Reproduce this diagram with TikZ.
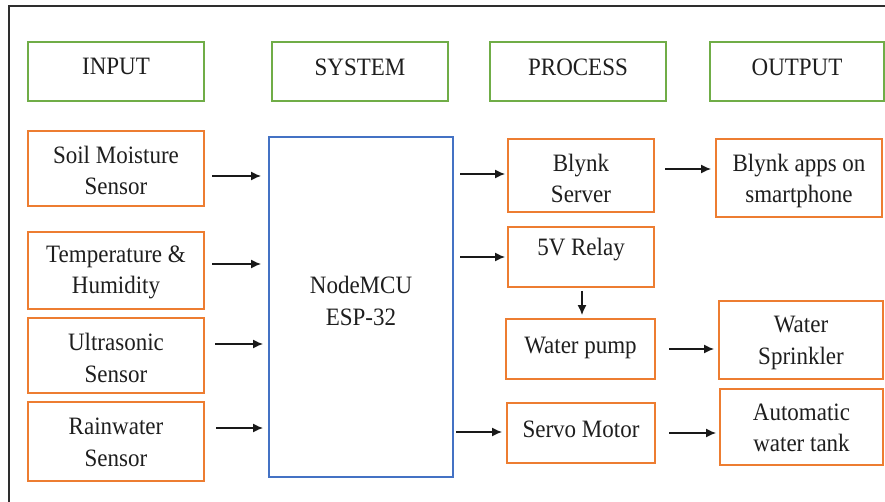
\documentclass[tikz,border=0pt]{standalone}
\usepackage{fontspec}
\setmainfont[FakeStretch=0.92]{Liberation Serif}
\usetikzlibrary{arrows.meta,calc}
\definecolor{gbox}{HTML}{70AD47}
\definecolor{obox}{HTML}{ED7D31}
\definecolor{bbox}{HTML}{4472C4}
\definecolor{txt}{HTML}{1E1E1E}
\definecolor{framec}{HTML}{2E2E2E}
\newcommand\shl[2]{\raisebox{#1}[\height][\depth]{#2}}
\begin{document}
\begin{tikzpicture}[x=1pt,y=-1pt,
  box/.style={draw, line width=2pt, inner sep=0pt, align=center, text=txt,
    font=\fontsize{25}{31.5}\selectfont},
  gb/.style={box, draw=gbox},
  ob/.style={box, draw=obox},
  bb/.style={box, draw=bbox},
  arr/.style={draw=black!90, line width=1.3pt, -{Latex[length=10pt,width=9pt]}},
  frm/.style={draw=framec, line width=2.6pt}]
\useasboundingbox (0,0) rectangle (885,502);
\coordinate (fa) at (9,505);
\coordinate (fb) at (9,6);
\coordinate (fc) at (890,6);
\draw[frm] (fa) -- (fb) -- (fc);
% header boxes
\node[gb, minimum width=176pt, minimum height=59pt] (hin) at (116,71.5) {\shl{5.5pt}{INPUT}};
\node[gb, minimum width=176pt, minimum height=59pt] (hsys) at (360,71.5) {\shl{4.5pt}{SYSTEM}};
\node[gb, minimum width=176pt, minimum height=59pt] (hproc) at (578,71.5) {\shl{4.5pt}{PROCESS}};
\node[gb, minimum width=174pt, minimum height=59pt] (hout) at (797,71.5) {\shl{4.5pt}{OUTPUT}};
% inputs
\node[ob, minimum width=176pt, minimum height=75pt] (soil) at (116,168.5) {\shl{-2pt}{Soil Moisture}\\\shl{-2pt}{Sensor}};
\node[ob, minimum width=176pt, minimum height=77pt] (temp) at (116,270.5) {\shl{-2pt}{Temperature \&}\\\shl{-2pt}{Humidity}};
\node[ob, minimum width=176pt, minimum height=75pt] (ultra) at (116,355.5) {\shl{-2.5pt}{Ultrasonic}\\\shl{-2.5pt}{Sensor}};
\node[ob, minimum width=176pt, minimum height=79pt] (rain) at (116,441.5) {\shl{-1pt}{Rainwater}\\\shl{-1pt}{Sensor}};
% system
\node[bb, minimum width=184pt, minimum height=340pt] (mcu) at (361,307) {};
\node[align=center, text=txt, font=\fontsize{25}{31.5}\selectfont] (mcut) at (361,301) {NodeMCU\\ESP-32};
% process
\node[ob, minimum width=146pt, minimum height=73pt] (blynk) at (581,175.5) {\shl{-3pt}{Blynk}\\\shl{-3pt}{Server}};
\node[ob, minimum width=146pt, minimum height=60pt] (relay) at (581,257) {\shl{7pt}{5V Relay}};
\node[ob, minimum width=149pt, minimum height=60pt] (pump) at (580.5,349) {\shl{1pt}{Water pump}};
\node[ob, minimum width=148pt, minimum height=60pt] (servo) at (581,433) {\shl{4pt}{Servo Motor}};
% outputs
\node[ob, minimum width=166pt, minimum height=78pt] (apps) at (799,178) {\shl{-3pt}{Blynk apps on}\\\shl{-3pt}{smartphone}};
\node[ob, minimum width=164pt, minimum height=78pt] (spr) at (801,340) {\shl{-3pt}{Water}\\\shl{-3pt}{Sprinkler}};
\node[ob, minimum width=163pt, minimum height=76pt] (tank) at (801.5,427) {\shl{-1pt}{Automatic}\\\shl{-1pt}{water tank}};
% arrows
\draw[arr] ([shift={(7pt,-7.5pt)}]soil.east) -- ([shift={(-7pt,-7.5pt)}]soil.east -| mcu.west);
\draw[arr] ([shift={(7pt,6.5pt)}]temp.east) -- ([shift={(-7pt,6.5pt)}]temp.east -| mcu.west);
\draw[arr] ([shift={(10pt,11.5pt)}]ultra.east) -- ([shift={(-5pt,11.5pt)}]ultra.east -| mcu.west);
\draw[arr] ([shift={(11pt,13.5pt)}]rain.east) -- ([shift={(-5pt,13.5pt)}]rain.east -| mcu.west);
\draw[arr] ([shift={(6pt,1.5pt)}]blynk.west -| mcu.east) -- ([shift={(-2pt,1.5pt)}]blynk.west);
\draw[arr] ([shift={(6pt,0pt)}]relay.west -| mcu.east) -- ([shift={(-2pt,0pt)}]relay.west);
\draw[arr] ([shift={(2pt,1pt)}]servo.west -| mcu.east) -- ([shift={(-4pt,1pt)}]servo.west);
\draw[arr] ([shift={(10pt,6.5pt)}]blynk.east) -- ([shift={(-4pt,6.5pt)}]blynk.east -| apps.west);
\draw[arr] ([shift={(1pt,-3pt)}]relay.south) -- ([shift={(1pt,3pt)}]relay.south |- pump.north);
\draw[arr] ([shift={(13pt,0pt)}]pump.east) -- ([shift={(-4pt,0pt)}]pump.east -| spr.west);
\draw[arr] ([shift={(13pt,0pt)}]servo.east) -- ([shift={(-3pt,0pt)}]servo.east -| tank.west);
\end{tikzpicture}
\end{document}
